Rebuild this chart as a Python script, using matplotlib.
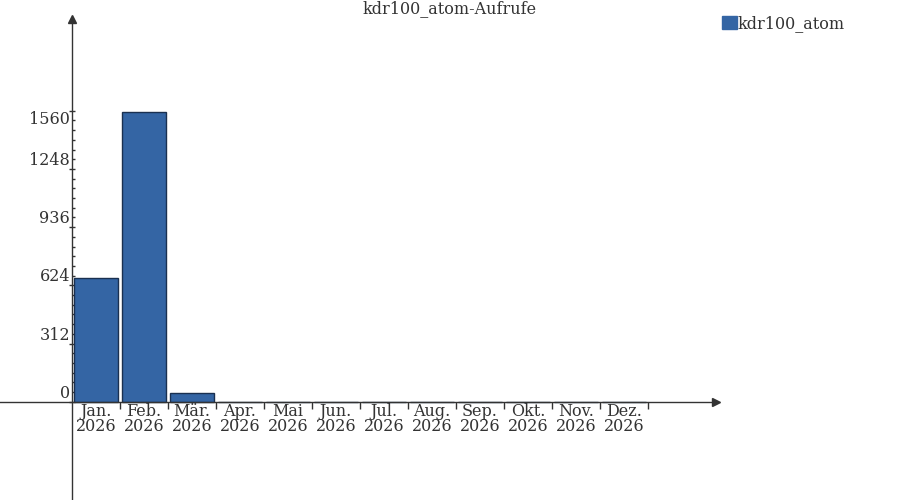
import matplotlib.pyplot as plt
import numpy as np

plt.rcParams['font.family'] = ['DejaVu Serif']

months = ['Jan.', 'Feb.', 'Mär.', 'Apr.', 'Mai', 'Jun.', 'Jul.', 'Aug.',
          'Sep.', 'Okt.', 'Nov.', 'Dez.']
year = '2026'
views = [662, 1555, 45, 0, 0, 0, 0, 0, 0, 0, 0, 0]
y_ticks = [0, 312, 624, 936, 1248, 1560]
series = 'kdr100_atom'
title = 'kdr100_atom-Aufrufe'

txt = '#333333'
blue = '#3465a4'
fs = 11.5
fig = plt.figure(figsize=(9, 5), dpi=100)
ax = fig.add_axes([0, 0, 0.796, 0.962])

x = np.arange(len(months)) + 0.5
ax.bar(x, views, width=0.9, color=blue, edgecolor='#1a3050',
       linewidth=1, label=series, zorder=2)

ax.set_xlim(-1.5, 13.425)
ax.set_ylim(-527, 2052)

for s in ['top', 'right']:
    ax.spines[s].set_visible(False)
ax.spines['left'].set_position(('data', 0))
ax.spines['bottom'].set_position(('data', 0))
for s in ['left', 'bottom']:
    ax.spines[s].set_color(txt)
    ax.spines[s].set_linewidth(1)
    ax.spines[s].set_zorder(3)

ax.plot(1, 0, '>', color=txt, markersize=6, transform=ax.get_yaxis_transform(),
        clip_on=False)
ax.plot(0, 1, '^', color=txt, markersize=6, transform=ax.get_xaxis_transform(),
        clip_on=False)

# x: tick marks on month boundaries, labels in the middle
ax.set_xticks(np.arange(1, 13))
ax.set_xticklabels([])
ax.set_xticks(x, minor=True)
ax.set_xticklabels([m + '\n' + year for m in months], minor=True,
                   linespacing=0.8, color=txt, fontsize=fs)
ax.tick_params(axis='x', which='major', direction='out', length=5,
               color=txt, width=1)
ax.tick_params(axis='x', which='minor', length=0, pad=1)

# y: labels sit above their tick (the top one below it)
ax.set_yticks(y_ticks)
ax.set_yticklabels([str(v) for v in y_ticks], va='bottom', color=txt,
                   fontsize=fs)
ax.get_yticklabels()[-1].set_va('top')
ax.set_yticks(np.arange(0, 1561, 52), minor=True)
ax.tick_params(axis='y', which='major', direction='inout', length=5,
               color=txt, width=1, pad=-1)
ax.tick_params(axis='y', which='minor', direction='in', length=2,
               color=txt, width=1)

fig.text(0.5, 1.0, title, ha='center', va='top', color=txt, fontsize=fs)
leg = fig.legend(loc='upper left', bbox_to_anchor=(0.793, 0.986), frameon=False,
                 handlelength=0.95, handleheight=0.9, handletextpad=0.05,
                 borderpad=0, fontsize=fs, labelcolor=txt)
for h in leg.legend_handles:
    h.set_edgecolor(blue)

fig.savefig('out.png', dpi=100)
